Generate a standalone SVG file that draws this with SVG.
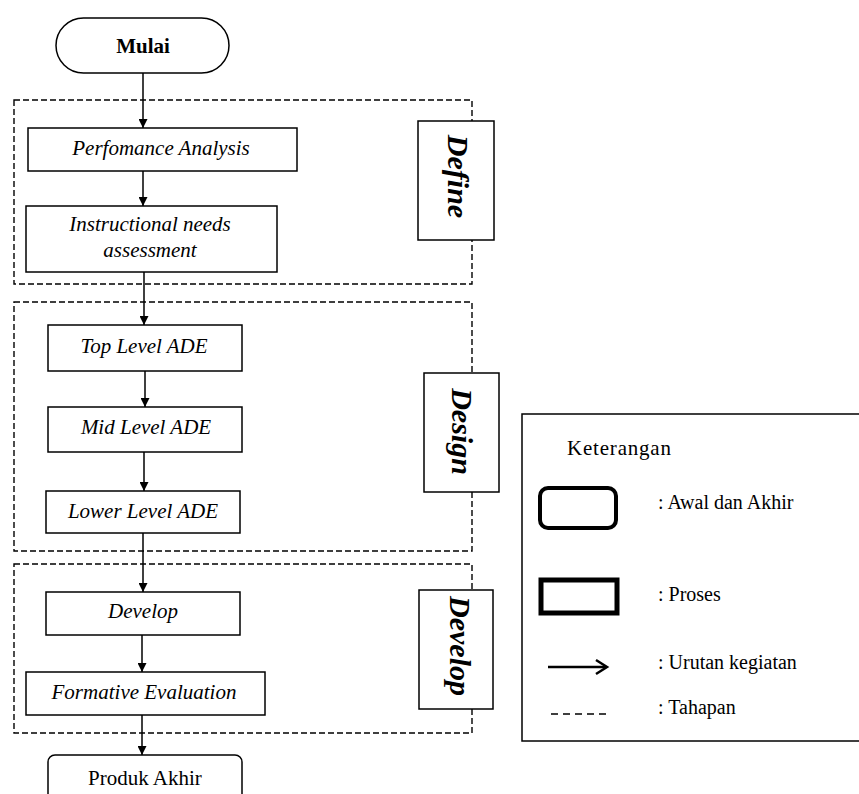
<svg xmlns="http://www.w3.org/2000/svg" width="859" height="794" viewBox="0 0 859 794">
<defs>
<style>
.node{fill:#fff;stroke:#000;stroke-width:1.5}
.stage{fill:none;stroke:#000;stroke-width:1.4;stroke-dasharray:6,3}
.lbl{fill:#fff;stroke:#000;stroke-width:1.5}
.t{font-family:"Liberation Serif","Times New Roman",serif;font-size:21px;font-style:italic;text-anchor:middle;fill:#000}
.tl{font-family:"Liberation Serif","Times New Roman",serif;font-size:30px;font-style:italic;font-weight:bold;text-anchor:middle;fill:#000}
.lg{font-family:"Liberation Serif","Times New Roman",serif;font-size:20px;fill:#000}
.conn{stroke:#000;stroke-width:1.5;fill:none;marker-end:url(#ah)}
</style>
<marker id="ah" viewBox="0 0 10 10" refX="10" refY="5" markerWidth="10" markerHeight="9" markerUnits="userSpaceOnUse" orient="auto">
<path d="M0,0 L10,5 L0,10 z" fill="#000"/>
</marker>
</defs>
<rect width="859" height="794" fill="#fff"/>

<g id="stage-define"><rect class="stage" x="14" y="100" width="458" height="184"/></g>
<g id="stage-design"><rect class="stage" x="14" y="302" width="458" height="249"/></g>
<g id="stage-develop"><rect class="stage" x="14" y="564" width="458" height="169"/></g>

<g id="connectors">
<line class="conn" x1="143" y1="73" x2="143" y2="128"/>
<line class="conn" x1="143" y1="171" x2="143" y2="206"/>
<line class="conn" x1="144" y1="272" x2="144" y2="325"/>
<line class="conn" x1="145" y1="371" x2="145" y2="407"/>
<line class="conn" x1="144" y1="452" x2="144" y2="491"/>
<line class="conn" x1="143" y1="533" x2="143" y2="592"/>
<line class="conn" x1="142" y1="635" x2="142" y2="672"/>
<line class="conn" x1="142" y1="715" x2="142" y2="755"/>
</g>

<g id="mulai"><rect class="node" x="56" y="18" width="173" height="55" rx="27.5"/><text x="143" y="53" class="t" style="font-style:normal;font-weight:bold">Mulai</text></g>
<g id="perf"><rect class="node" x="28" y="128" width="269" height="43"/><text x="161" y="155" class="t">Perfomance Analysis</text></g>
<g id="instr"><rect class="node" x="26" y="206" width="251" height="66"/><text x="150" y="231" class="t">Instructional needs</text><text x="150" y="257" class="t">assessment</text></g>
<g id="top"><rect class="node" x="48" y="325" width="194" height="46"/><text x="144" y="353" class="t">Top Level ADE</text></g>
<g id="mid"><rect class="node" x="48" y="407" width="194" height="45"/><text x="146" y="434" class="t">Mid Level ADE</text></g>
<g id="lower"><rect class="node" x="46" y="491" width="194" height="42"/><text x="143" y="518" class="t">Lower Level ADE</text></g>
<g id="develop"><rect class="node" x="46" y="592" width="194" height="43"/><text x="143" y="618" class="t">Develop</text></g>
<g id="formative"><rect class="node" x="26" y="672" width="239" height="43"/><text x="144" y="699" class="t">Formative Evaluation</text></g>
<g id="produk"><rect class="node" x="48" y="755" width="194" height="60" rx="7"/><text x="145" y="785" class="t" style="font-style:normal">Produk Akhir</text></g>

<g id="label-define"><rect class="lbl" x="418" y="121" width="76" height="119"/><text class="tl" transform="translate(448,176.5) rotate(90)">Define</text></g>
<g id="label-design"><rect class="lbl" x="424" y="373" width="75" height="119"/><text class="tl" transform="translate(452,431.5) rotate(90)">Design</text></g>
<g id="label-develop"><rect class="lbl" x="419" y="590" width="74" height="119"/><text class="tl" transform="translate(450,646) rotate(90)">Develop</text></g>

<g id="legend">
<rect x="522" y="414" width="350" height="327" fill="#fff" stroke="#000" stroke-width="1.5"/>
<text x="567" y="455" class="lg" style="font-size:21px;letter-spacing:0.8px">Keterangan</text>
<rect x="540" y="488" width="76" height="40" rx="8" fill="none" stroke="#000" stroke-width="4"/>
<text x="658" y="509" class="lg">: Awal dan Akhir</text>
<rect x="541" y="580" width="76" height="33" fill="none" stroke="#000" stroke-width="5"/>
<text x="658" y="601" class="lg">: Proses</text>
<line x1="548" y1="667" x2="606" y2="667" stroke="#000" stroke-width="2.5"/>
<path d="M596,660 L607,667 L596,674" fill="none" stroke="#000" stroke-width="2.5"/>
<text x="658" y="669" class="lg">: Urutan kegiatan</text>
<line x1="551" y1="714" x2="607" y2="714" stroke="#000" stroke-width="1.4" stroke-dasharray="7,5"/>
<text x="658" y="714" class="lg">: Tahapan</text>
</g>
</svg>
